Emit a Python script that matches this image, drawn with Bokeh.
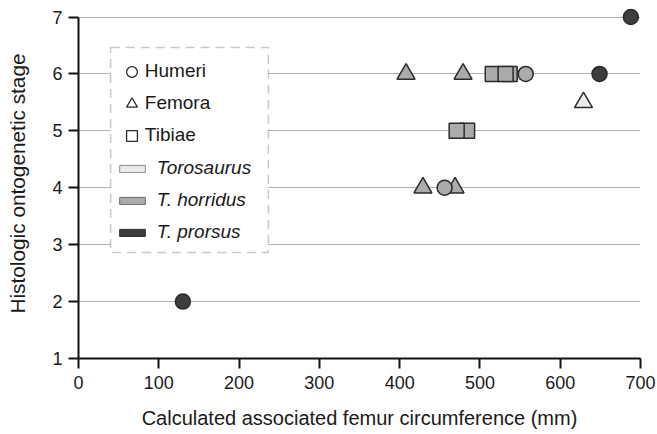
from bokeh.plotting import figure
from bokeh.models import (Range1d, FixedTicker, Legend, LegendItem, BoxAnnotation,
                          ColumnDataSource)
from bokeh.transform import factor_cmap
from bokeh.embed import file_html
from bokeh.resources import INLINE

# ---- data ----
taxa = ["Torosaurus", "T. horridus", "T. prorsus"]
taxon_colors = ["#ebebeb", "#ababab", "#3d3d3d"]

femora_x = [408, 479, 429, 469, 629]
femora_y = [6, 6, 4, 4, 5.5]
femora_taxon = ["T. horridus", "T. horridus", "T. horridus", "T. horridus", "Torosaurus"]

tibiae_x = [484, 471, 516, 537, 532]
tibiae_y = [5, 5, 6, 6, 6]
tibiae_taxon = ["T. horridus"] * 5

humeri_x = [130, 456, 557, 649, 688]
humeri_y = [2, 4, 6, 6, 7]
humeri_taxon = ["T. prorsus", "T. horridus", "T. horridus", "T. prorsus", "T. prorsus"]

x_ticks = [0, 100, 200, 300, 400, 500, 600, 700]
y_ticks = [1, 2, 3, 4, 5, 6, 7]

bone_labels = ["Humeri", "Femora", "Tibiae"]
x_title = "Calculated associated femur circumference (mm)"
y_title = "Histologic ontogenetic stage"

FONT = "Liberation Sans"
OUT = "#2b2b2b"

p = figure(frame_width=562, frame_height=350,
           x_range=Range1d(0, 700), y_range=Range1d(1, 7.15),
           output_backend="svg", toolbar_location=None,
           min_border_left=78, min_border_right=16, min_border_top=8, min_border_bottom=76)
p.outline_line_color = None
p.background_fill_color = "white"

# axes
for ax in (p.xaxis[0], p.yaxis[0]):
    ax.axis_line_width = 2
    ax.axis_line_color = "#111111"
    ax.major_tick_line_width = 2
    ax.major_tick_line_color = "#111111"
    ax.major_tick_out = 10
    ax.major_tick_in = 0
    ax.minor_tick_out = 0
    ax.minor_tick_in = 0
    ax.major_label_text_font = FONT
    ax.major_label_text_font_size = "18px"
    ax.major_label_text_color = "#1a1a1a"
    ax.axis_label_text_font = FONT
    ax.axis_label_text_font_style = "normal"
    ax.axis_label_text_color = "#1a1a1a"

p.xaxis.ticker = FixedTicker(ticks=x_ticks)
p.yaxis.ticker = FixedTicker(ticks=y_ticks)
p.yaxis.bounds = (1, 7)
p.xaxis.major_label_standoff = 7
p.yaxis.major_label_standoff = 6
p.xaxis.axis_label = x_title
p.yaxis.axis_label = y_title
p.xaxis.axis_label_text_font_size = "20px"
p.yaxis.axis_label_text_font_size = "20.8px"
p.xaxis.axis_label_standoff = 15
p.yaxis.axis_label_standoff = 20

p.xgrid.visible = False
p.ygrid.grid_line_color = "#b0b0b0"
p.ygrid.grid_line_width = 1

cmap = factor_cmap("taxon", palette=taxon_colors, factors=taxa)

fem = ColumnDataSource(dict(x=femora_x, y=femora_y, taxon=femora_taxon))
tib = ColumnDataSource(dict(x=tibiae_x, y=tibiae_y, taxon=tibiae_taxon))
hum = ColumnDataSource(dict(x=humeri_x, y=humeri_y, taxon=humeri_taxon))

p.scatter("x", "y", source=fem, marker="triangle", size=18, fill_color=cmap,
          line_color=OUT, line_width=1.5)
p.scatter("x", "y", source=tib, marker="square", size=15, fill_color=cmap,
          line_color=OUT, line_width=1.5)
p.scatter("x", "y", source=hum, marker="circle", size=15, fill_color=cmap,
          line_color=OUT, line_width=1.5)

# legend box
box = BoxAnnotation(left=40, right=236.5, bottom=2.862, top=6.465,
                    fill_color="white", fill_alpha=1.0,
                    line_color="#4a4a4a", line_width=1.5, line_dash="9 6")
p.add_layout(box)

# hidden renderers that only provide legend glyphs
bone_markers = ["circle", "triangle", "square"]
bone_r = []
for m in bone_markers:
    r = p.scatter("x", "y", source=hum, marker=m, fill_color="white", line_color=OUT,
                  line_width=1.3)
    r.visible = False
    bone_r.append(r)
swatch_lines = ["#8a8a8a", "#6a6a6a", "#2a2a2a"]
taxon_r = []
for c, lc in zip(taxon_colors, swatch_lines):
    r = p.rect("x", "y", source=hum, width=1, height=1, fill_color=c, line_color=lc,
               line_width=1)
    r.visible = False
    taxon_r.append(r)

common = dict(padding=0, margin=0, spacing=5, label_height=27,
              border_line_color=None, background_fill_alpha=0,
              inactive_fill_alpha=0,
              label_text_font=FONT, label_text_font_size="19px", label_text_color="#1a1a1a")
leg1 = Legend(items=[LegendItem(label=l, renderers=[r]) for l, r in zip(bone_labels, bone_r)],
              location=(39.8, 209.5), glyph_width=27, glyph_height=27,
              label_standoff=0, **common)
leg2 = Legend(items=[LegendItem(label=l, renderers=[r]) for l, r in zip(taxa, taxon_r)],
              location=(37.8, 112.5), glyph_width=32, glyph_height=9,
              label_standoff=9, label_text_font_style="italic", **common)
p.add_layout(leg1)
p.add_layout(leg2)

open("out.html", "w").write(file_html(p, INLINE))
